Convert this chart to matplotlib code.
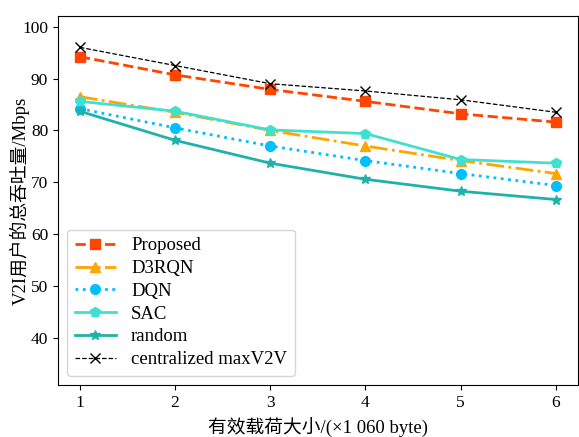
import matplotlib
matplotlib.use("Agg")
import matplotlib.pyplot as plt

plt.rcParams['font.family'] = ['Liberation Serif', 'Noto Sans CJK SC']
plt.rcParams['axes.unicode_minus'] = False

# Data
x = [1, 2, 3, 4, 5, 6]
proposed = [94.2, 90.7, 87.9, 85.6, 83.2, 81.6]
d3rqn = [86.5, 83.5, 80.0, 77.0, 74.2, 71.7]
dqn = [84.2, 80.5, 77.0, 74.2, 71.7, 69.4]
sac = [85.6, 83.7, 80.1, 79.4, 74.4, 73.7]
rand = [83.7, 78.1, 73.7, 70.6, 68.3, 66.7]
central = [96.0, 92.5, 89.0, 87.6, 85.9, 83.5]

fig = plt.figure(figsize=(5.79, 4.37), dpi=100)
ax = fig.add_axes([0.1, 0.119, 0.898, 0.844])

ax.plot(x, proposed, '--', color='#FF4500', marker='s', ms=7, lw=2, label='Proposed')
ax.plot(x, d3rqn, '-.', color='#FFA500', marker='^', ms=7, lw=2, label='D3RQN')
ax.plot(x, dqn, ':', color='#00BFFF', marker='o', ms=7, lw=2, label='DQN')
ax.plot(x, sac, '-', color='#40E0D0', marker='p', ms=7, lw=2, label='SAC')
ax.plot(x, rand, '-', color='#20B2AA', marker='*', ms=7, lw=2, label='random')
ax.plot(x, central, '--', color='black', marker='x', ms=7, lw=0.9, label='centralized maxV2V')

ax.set_xlim(0.77, 6.23)
ax.set_ylim(31, 102)
ax.set_xticks(x)
ax.set_yticks([40, 50, 60, 70, 80, 90, 100])
ax.tick_params(labelsize=12.5)
ax.set_xlabel('有效载荷大小/(×1 060 byte)', fontsize=13.5)
ax.set_ylabel('V2I用户的总吞吐量/Mbps', fontsize=13.5)
ax.yaxis.set_label_coords(-0.055, 0.5)
ax.xaxis.set_label_coords(0.5, -0.09)
ax.legend(loc='lower left', fontsize=13.5, labelspacing=0.3, handlelength=2.2)

fig.savefig('out.png')
